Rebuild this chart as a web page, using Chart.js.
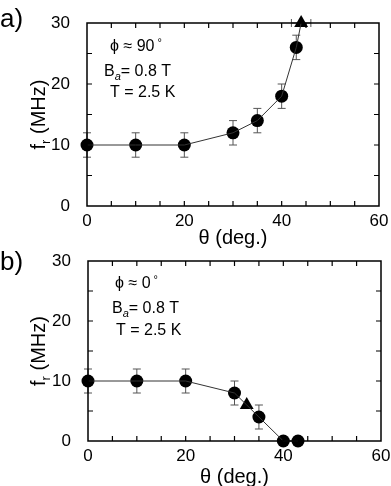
<!DOCTYPE html>
<html>
<head>
<meta charset="utf-8">
<script src="https://cdn.jsdelivr.net/npm/chart.js@4.4.0/dist/chart.umd.min.js"></script>
<style>
  body { margin: 0; background: #fff; }
  #wrap { position: relative; width: 391px; height: 486px; overflow: hidden; }
  canvas { position: absolute; left: 0; }
  #chartA { top: 0; }
  #chartB { top: 240px; }
</style>
</head>
<body>
<div id="wrap">
  <canvas id="chartA" width="391" height="250"></canvas>
  <canvas id="chartB" width="391" height="246"></canvas>
</div>
<script>
// panel a) phi ~ 90 deg
const thetaA = [0, 10, 20, 30, 35, 40, 43];
const freqA = [10, 10, 10, 12, 14, 18, 26];
const errA = [2, 2, 2, 2, 2, 2, 2];
const triThetaA = [44];
const triFreqA = [30];
const triErrXA = [2];

// panel b) phi ~ 0 deg
const thetaB = [0, 10, 20, 30, 35, 40, 43];
const freqB = [10, 10, 10, 8, 4, 0, 0];
const errB = [2, 2, 2, 2, 2, 0, 0];
const triThetaB = [32.5];
const triFreqB = [6];
const triErrXB = [0];

const xTicks = [0, 20, 40, 60];
const yTicks = [0, 10, 20, 30];

const FONT = "'Liberation Sans', Arial, sans-serif";

function pts(xs, ys) {
    return xs.map((x, i) => ({ x: x, y: ys[i] }));
}

function linePts(xs, ys, txs, tys) {
    return pts(xs, ys).concat(pts(txs, tys)).sort((a, b) => a.x - b.x);
}

// frame, inward ticks, error bars, labels
const decorPlugin = {
    id: "decor",
    beforeDatasetsDraw(chart, args, opts) {
        const ctx = chart.ctx;
        const xs = chart.scales.x, ys = chart.scales.y;
        ctx.save();
        ctx.strokeStyle = "#555";
        ctx.lineWidth = 1;
        const cap = 4;
        opts.errY.forEach((e, i) => {
            if (!e) return;
            const px = xs.getPixelForValue(opts.xs[i]);
            const y1 = ys.getPixelForValue(opts.ys[i] - e);
            const y2 = ys.getPixelForValue(opts.ys[i] + e);
            ctx.beginPath();
            ctx.moveTo(px, y1); ctx.lineTo(px, y2);
            ctx.moveTo(px - cap, y1); ctx.lineTo(px + cap, y1);
            ctx.moveTo(px - cap, y2); ctx.lineTo(px + cap, y2);
            ctx.stroke();
        });
        opts.errX.forEach((e, i) => {
            if (!e) return;
            const py = ys.getPixelForValue(opts.tys[i]);
            const x1 = xs.getPixelForValue(opts.txs[i] - e);
            const x2 = xs.getPixelForValue(opts.txs[i] + e);
            ctx.beginPath();
            ctx.moveTo(x1, py); ctx.lineTo(x2, py);
            ctx.moveTo(x1, py - cap); ctx.lineTo(x1, py + cap);
            ctx.moveTo(x2, py - cap); ctx.lineTo(x2, py + cap);
            ctx.stroke();
        });
        ctx.restore();
    },
    afterDraw(chart, args, opts) {
        const ctx = chart.ctx;
        const a = chart.chartArea;
        const xs = chart.scales.x, ys = chart.scales.y;
        ctx.save();
        ctx.strokeStyle = "#000";
        ctx.lineWidth = 1.5;
        ctx.strokeRect(a.left, a.top, a.right - a.left, a.bottom - a.top);
        ctx.lineWidth = 1.2;
        ctx.beginPath();
        for (let v = 5; v < 60; v += 5) {
            const px = xs.getPixelForValue(v);
            ctx.moveTo(px, a.bottom); ctx.lineTo(px, a.bottom - 5);
            ctx.moveTo(px, a.top); ctx.lineTo(px, a.top + 5);
        }
        for (let v = 5; v < 30; v += 5) {
            const py = ys.getPixelForValue(v);
            ctx.moveTo(a.left, py); ctx.lineTo(a.left + 5, py);
            ctx.moveTo(a.right, py); ctx.lineTo(a.right - 5, py);
        }
        ctx.stroke();

        ctx.fillStyle = "#000";
        // panel letter
        ctx.font = "26px " + FONT;
        ctx.textAlign = "left";
        ctx.textBaseline = "alphabetic";
        ctx.fillText(opts.letter, 0, opts.letterY);

        // y title: f_r (MHz)
        ctx.save();
        ctx.translate(45, (a.top + a.bottom) / 2);
        ctx.rotate(-Math.PI / 2);
        ctx.font = "20px " + FONT;
        const w1 = ctx.measureText("f").width;
        ctx.font = "13px " + FONT;
        const w2 = ctx.measureText("r").width;
        ctx.font = "20px " + FONT;
        const w3 = ctx.measureText(" (MHz)").width;
        let sx = -(w1 + w2 + w3) / 2;
        ctx.fillText("f", sx, 0);
        ctx.font = "13px " + FONT;
        ctx.fillText("r", sx + w1, 5);
        ctx.font = "20px " + FONT;
        ctx.fillText(" (MHz)", sx + w1 + w2, 0);
        ctx.restore();

        // x title
        ctx.font = "20px " + FONT;
        ctx.textAlign = "center";
        ctx.fillText("\u03b8 (deg.)", (a.left + a.right) / 2, opts.xTitleY);

        // annotations
        ctx.textAlign = "left";
        const n = opts.note;
        ctx.font = "16px " + FONT;
        ctx.fillText("\u03d5 \u2248 " + opts.phi, a.left + n.phiX, a.top + n.phiY);
        const pw = ctx.measureText("\u03d5 \u2248 " + opts.phi).width;
        ctx.font = "11px " + FONT;
        ctx.fillText("\u00b0", a.left + n.phiX + pw + 3, a.top + n.phiY - 5);
        ctx.font = "16px " + FONT;
        ctx.fillText("B", a.left + n.bX, a.top + n.bY);
        const bw = ctx.measureText("B").width;
        ctx.font = "italic 11px " + FONT;
        ctx.fillText("a", a.left + n.bX + bw, a.top + n.bY + 4);
        const aw = ctx.measureText("a").width;
        ctx.font = "16px " + FONT;
        ctx.fillText("= 0.8 T", a.left + n.bX + bw + aw, a.top + n.bY);
        ctx.fillText("T = 2.5 K", a.left + n.tX, a.top + n.tY);
        ctx.restore();
    }
};

function makeChart(id, cfg) {
    return new Chart(document.getElementById(id), {
        type: "scatter",
        data: {
            datasets: [
                {
                    data: linePts(cfg.xs, cfg.ys, cfg.txs, cfg.tys),
                    showLine: true,
                    borderColor: "#333",
                    borderWidth: 1,
                    pointRadius: 0,
                    clip: false
                },
                {
                    data: pts(cfg.xs, cfg.ys),
                    pointStyle: "circle",
                    pointRadius: 6.5,
                    backgroundColor: "#000",
                    borderColor: "#000",
                    borderWidth: 0,
                    clip: false
                },
                {
                    data: pts(cfg.txs, cfg.tys),
                    pointStyle: "triangle",
                    pointRadius: 8,
                    backgroundColor: "#000",
                    borderColor: "#000",
                    borderWidth: 0,
                    clip: false
                }
            ]
        },
        options: {
            responsive: false,
            animation: false,
            devicePixelRatio: 1,
            layout: { padding: { top: cfg.top, right: cfg.right, left: 0, bottom: 0 } },
            plugins: {
                legend: { display: false },
                tooltip: { enabled: false },
                decor: {
                    xs: cfg.xs, ys: cfg.ys, errY: cfg.errY,
                    txs: cfg.txs, tys: cfg.tys, errX: cfg.errX,
                    letter: cfg.letter, letterY: cfg.letterY,
                    xTitleY: cfg.xTitleY, phi: cfg.phi, note: cfg.note
                }
            },
            scales: {
                x: {
                    type: "linear",
                    min: 0, max: 60,
                    afterFit: s => { s.height = cfg.xAxisH; },
                    afterBuildTicks: s => { s.ticks = xTicks.map(v => ({ value: v })); },
                    grid: { display: false },
                    border: { display: false },
                    ticks: { color: "#000", padding: -3, font: { family: FONT, size: 17 }, maxRotation: 0 }
                },
                y: {
                    type: "linear",
                    min: 0, max: 30,
                    afterFit: s => { s.width = cfg.left; },
                    afterBuildTicks: s => { s.ticks = yTicks.map(v => ({ value: v })); },
                    grid: { display: false },
                    border: { display: false },
                    ticks: { color: "#000", padding: 9, font: { family: FONT, size: 17 } }
                }
            }
        },
        plugins: [decorPlugin]
    });
}

makeChart("chartA", {
    xs: thetaA, ys: freqA, errY: errA,
    txs: triThetaA, tys: triFreqA, errX: triErrXA,
    top: 23, right: 12, left: 87, xAxisH: 44,
    letter: "a)", letterY: 27, xTitleY: 244, phi: "90",
    note: { phiX: 23, phiY: 28, bX: 17, bY: 53, tX: 23, tY: 74 }
});

makeChart("chartB", {
    xs: thetaB, ys: freqB, errY: errB,
    txs: triThetaB, tys: triFreqB, errX: triErrXB,
    top: 21, right: 10, left: 88, xAxisH: 45,
    letter: "b)", letterY: 30, xTitleY: 243, phi: "0",
    note: { phiX: 27, phiY: 27, bX: 24, bY: 52, tX: 28, tY: 74 }
});
</script>
</body>
</html>
